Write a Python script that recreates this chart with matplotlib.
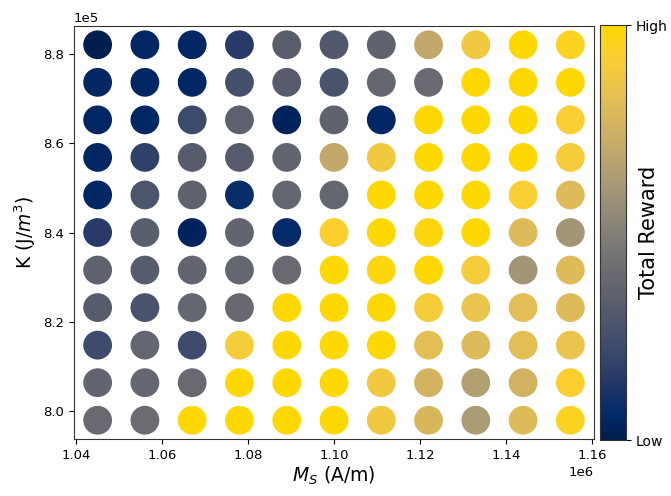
import numpy as np
import matplotlib
matplotlib.use("Agg")
import matplotlib.pyplot as plt
from matplotlib.colors import LinearSegmentedColormap

# Grid coordinates
Ms = [1.045e6, 1.056e6, 1.067e6, 1.078e6, 1.089e6, 1.100e6, 1.111e6, 1.122e6, 1.133e6, 1.144e6, 1.155e6]
K = [7.98e5, 8.064e5, 8.148e5, 8.232e5, 8.316e5, 8.40e5, 8.484e5, 8.568e5, 8.652e5, 8.736e5, 8.82e5]

# Normalised total reward, rows from top (K max) to bottom (K min), columns left to right (Ms)
reward_rows = [
    [0.00, 0.05, 0.05, 0.15, 0.33, 0.30, 0.36, 0.70, 0.88, 1.00, 0.95],
    [0.05, 0.05, 0.05, 0.25, 0.32, 0.27, 0.38, 0.40, 1.00, 1.00, 1.00],
    [0.05, 0.05, 0.22, 0.35, 0.03, 0.36, 0.05, 1.00, 1.00, 1.00, 0.92],
    [0.05, 0.18, 0.32, 0.32, 0.37, 0.70, 0.88, 1.00, 1.00, 1.00, 0.90],
    [0.05, 0.28, 0.36, 0.08, 0.38, 0.38, 1.00, 1.00, 1.00, 0.92, 0.80],
    [0.15, 0.33, 0.03, 0.37, 0.07, 0.93, 1.00, 0.98, 1.00, 0.80, 0.60],
    [0.35, 0.32, 0.37, 0.38, 0.40, 1.00, 0.98, 1.00, 0.90, 0.60, 0.80],
    [0.32, 0.27, 0.38, 0.39, 1.00, 1.00, 1.00, 0.90, 0.85, 0.82, 0.80],
    [0.23, 0.38, 0.23, 0.90, 1.00, 1.00, 1.00, 0.82, 0.80, 0.82, 0.85],
    [0.37, 0.38, 0.40, 1.00, 1.00, 1.00, 0.88, 0.76, 0.65, 0.75, 0.93],
    [0.40, 0.41, 1.00, 1.00, 1.00, 1.00, 0.88, 0.78, 0.63, 0.80, 0.95],
]

cbar_ticklabels = ["Low", "High"]

# colormap resembling the reference's (cividis-like, warmer gold top)
cmap = LinearSegmentedColormap.from_list("reward", [
    (0.00, "#001e4e"), (0.06, "#002a6a"), (0.12, "#1e3468"), (0.22, "#3c4a6c"),
    (0.32, "#575c6c"), (0.42, "#6e6e72"), (0.52, "#8a8478"), (0.62, "#a89a76"),
    (0.72, "#c8ac68"), (0.84, "#e8c250"), (0.93, "#fbd030"), (1.00, "#ffd800"),
])

X, Y = np.meshgrid(Ms, K[::-1])
C = np.array(reward_rows)

fig = plt.figure(figsize=(6.71, 4.96), dpi=100)
ax = fig.add_axes([74/671, 1 - 439/496, 520/671, 413/496])
cax = fig.add_axes([600/671, 1 - 440/496, 26/671, 415/496])

sc = ax.scatter(X.ravel(), Y.ravel(), c=C.ravel(), cmap=cmap, vmin=0, vmax=1,
                s=430, edgecolors="none")
ax.ticklabel_format(style="sci", axis="both", scilimits=(0, 0))
ax.tick_params(labelsize=9.5)
ax.xaxis.get_offset_text().set_fontsize(9.5)
ax.yaxis.get_offset_text().set_fontsize(9.5)
ax.set_xlabel(r"$M_S$ (A/m)", fontsize=13.5, labelpad=2)
ax.set_ylabel(r"K (J/$m^3$)", fontsize=13.5)
for sp in ax.spines.values():
    sp.set_edgecolor("#333333")

cb = fig.colorbar(sc, cax=cax, ticks=[0, 1])
cb.ax.set_yticklabels(cbar_ticklabels, fontsize=10)
cb.set_label("Total Reward", fontsize=15)
cb.ax.yaxis.set_label_coords(1.5, 0.5)
cb.outline.set_edgecolor("#333333")

fig.savefig("out.png", dpi=100)
